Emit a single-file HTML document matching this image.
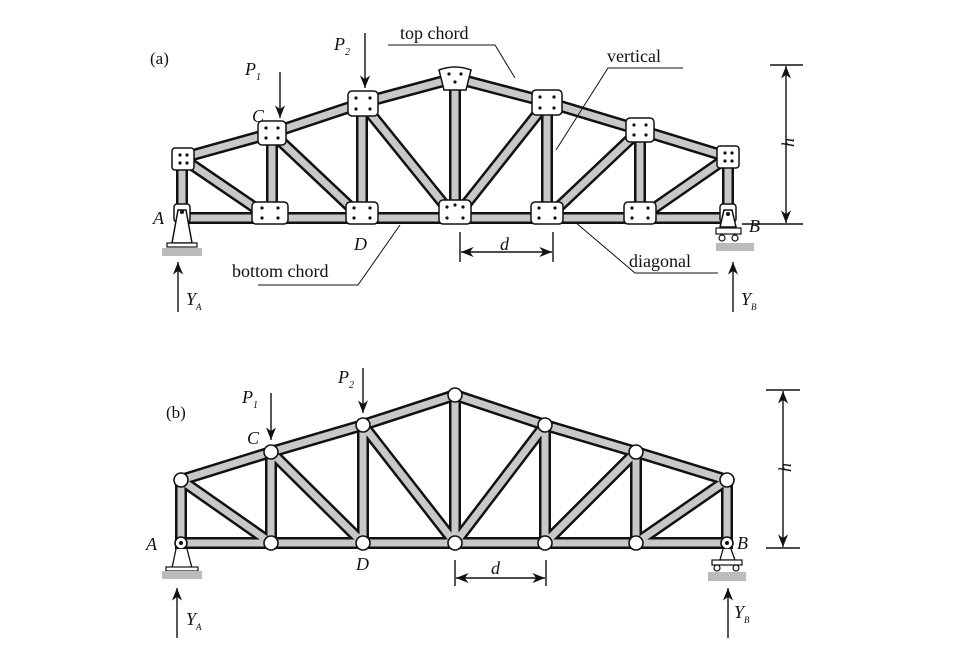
<!DOCTYPE html>
<html><head><meta charset="utf-8"><style>
html,body{margin:0;padding:0;background:#fff}
svg{display:block}
text{font-family:"Liberation Serif",serif;fill:#111}
.it{font-style:italic}
</style></head><body>
<svg width="960" height="660" viewBox="0 0 960 660" xmlns="http://www.w3.org/2000/svg">
<defs>
<marker id="ar" viewBox="0 0 10 10" refX="10" refY="5" markerWidth="9" markerHeight="9" orient="auto-start-reverse"><path d="M0,1 L10,5 L0,9 L3,5z" fill="#111"/></marker>
</defs>
<rect width="960" height="660" fill="#fff"/>

<!-- ============ (a) ============ -->
<g stroke-linecap="butt">
<g stroke="#111" stroke-width="12">
<line x1="176" y1="218" x2="734" y2="218"/>
<polyline fill="none" points="182,158 272,133 362,103 455,78 547,102 640,130 728,157"/>
<line x1="182" y1="158" x2="182" y2="218"/><line x1="272" y1="133" x2="272" y2="218"/><line x1="362" y1="103" x2="362" y2="218"/><line x1="455" y1="78" x2="455" y2="218"/><line x1="547" y1="102" x2="547" y2="218"/><line x1="640" y1="130" x2="640" y2="218"/><line x1="728" y1="157" x2="728" y2="218"/>
<line x1="182" y1="158" x2="270" y2="218"/><line x1="272" y1="133" x2="362" y2="218"/><line x1="362" y1="103" x2="455" y2="218"/><line x1="455" y1="218" x2="547" y2="102"/><line x1="547" y1="218" x2="640" y2="130"/><line x1="640" y1="218" x2="728" y2="157"/>
</g>
<g stroke="#c8c8c8" stroke-width="7">
<line x1="176" y1="218" x2="734" y2="218"/>
<polyline fill="none" points="182,158 272,133 362,103 455,78 547,102 640,130 728,157"/>
<line x1="182" y1="158" x2="182" y2="218"/><line x1="272" y1="133" x2="272" y2="218"/><line x1="362" y1="103" x2="362" y2="218"/><line x1="455" y1="78" x2="455" y2="218"/><line x1="547" y1="102" x2="547" y2="218"/><line x1="640" y1="130" x2="640" y2="218"/><line x1="728" y1="157" x2="728" y2="218"/>
<line x1="182" y1="158" x2="270" y2="218"/><line x1="272" y1="133" x2="362" y2="218"/><line x1="362" y1="103" x2="455" y2="218"/><line x1="455" y1="218" x2="547" y2="102"/><line x1="547" y1="218" x2="640" y2="130"/><line x1="640" y1="218" x2="728" y2="157"/>
</g>
</g>
<!-- gussets -->
<g fill="#fff" stroke="#111" stroke-width="1.5">
<rect x="172" y="148" width="22" height="22" rx="3"/>
<rect x="258" y="121" width="28" height="24" rx="4"/>
<rect x="348" y="91" width="30" height="25" rx="4"/>
<path d="M439,70 Q455,64 471,70 L466,90 L444,90Z"/>
<rect x="532" y="90" width="30" height="25" rx="4"/>
<rect x="626" y="118" width="28" height="24" rx="4"/>
<rect x="717" y="146" width="22" height="22" rx="3"/>
<rect x="252" y="202" width="36" height="22" rx="4"/>
<rect x="346" y="202" width="32" height="22" rx="4"/>
<rect x="439" y="200" width="32" height="24" rx="4"/>
<rect x="531" y="202" width="32" height="22" rx="4"/>
<rect x="624" y="202" width="32" height="22" rx="4"/>
<rect x="174" y="204" width="16" height="18" rx="3"/>
<rect x="720" y="204" width="16" height="18" rx="3"/>
</g>
<g fill="#111">
<circle cx="180" cy="155" r="1.6"/><circle cx="187" cy="155" r="1.6"/><circle cx="180" cy="163" r="1.6"/><circle cx="187" cy="163" r="1.6"/>
<circle cx="266" cy="128" r="1.6"/><circle cx="278" cy="128" r="1.6"/><circle cx="266" cy="138" r="1.6"/><circle cx="278" cy="138" r="1.6"/>
<circle cx="356" cy="98" r="1.6"/><circle cx="370" cy="98" r="1.6"/><circle cx="356" cy="109" r="1.6"/><circle cx="370" cy="109" r="1.6"/>
<circle cx="449" cy="74" r="1.6"/><circle cx="461" cy="74" r="1.6"/><circle cx="455" cy="82" r="1.6"/>
<circle cx="540" cy="97" r="1.6"/><circle cx="554" cy="97" r="1.6"/><circle cx="540" cy="108" r="1.6"/><circle cx="554" cy="108" r="1.6"/>
<circle cx="634" cy="125" r="1.6"/><circle cx="646" cy="125" r="1.6"/><circle cx="634" cy="135" r="1.6"/><circle cx="646" cy="135" r="1.6"/>
<circle cx="725" cy="153" r="1.6"/><circle cx="732" cy="153" r="1.6"/><circle cx="725" cy="161" r="1.6"/><circle cx="732" cy="161" r="1.6"/>
<circle cx="262" cy="208" r="1.6"/><circle cx="278" cy="208" r="1.6"/><circle cx="262" cy="218" r="1.6"/><circle cx="278" cy="218" r="1.6"/>
<circle cx="354" cy="208" r="1.6"/><circle cx="370" cy="208" r="1.6"/><circle cx="354" cy="218" r="1.6"/><circle cx="370" cy="218" r="1.6"/>
<circle cx="447" cy="207" r="1.6"/><circle cx="455" cy="205" r="1.6"/><circle cx="463" cy="207" r="1.6"/><circle cx="447" cy="218" r="1.6"/><circle cx="463" cy="218" r="1.6"/>
<circle cx="539" cy="208" r="1.6"/><circle cx="555" cy="208" r="1.6"/><circle cx="539" cy="218" r="1.6"/><circle cx="555" cy="218" r="1.6"/>
<circle cx="632" cy="208" r="1.6"/><circle cx="648" cy="208" r="1.6"/><circle cx="632" cy="218" r="1.6"/><circle cx="648" cy="218" r="1.6"/>
</g>
<!-- supports a -->
<path d="M178,210 L186,210 L192,243 L172,243Z" fill="#fff" stroke="#111" stroke-width="1.5"/>
<circle cx="182" cy="212" r="2" fill="#111"/>
<rect x="167" y="243" width="30" height="4" fill="#fff" stroke="#111" stroke-width="1.2"/>
<rect x="162" y="248" width="40" height="8" fill="#bbb"/>
<path d="M724,210 L732,210 L736,227 L720,227Z" fill="#fff" stroke="#111" stroke-width="1.5"/>
<circle cx="728" cy="214" r="2" fill="#111"/>
<rect x="716" y="228" width="25" height="6" fill="#fff" stroke="#111" stroke-width="1.2"/>
<circle cx="722" cy="238" r="3" fill="#fff" stroke="#111" stroke-width="1.2"/><circle cx="735" cy="238" r="3" fill="#fff" stroke="#111" stroke-width="1.2"/>
<rect x="716" y="243" width="38" height="8" fill="#bbb"/>

<g stroke="#111" stroke-width="1.4" fill="none">
<line x1="280" y1="72" x2="280" y2="118" marker-end="url(#ar)"/>
<line x1="365" y1="33" x2="365" y2="88" marker-end="url(#ar)"/>
<line x1="178" y1="312" x2="178" y2="262" marker-end="url(#ar)"/>
<line x1="733" y1="312" x2="733" y2="262" marker-end="url(#ar)"/>
<line x1="460" y1="232" x2="460" y2="262"/><line x1="553" y1="232" x2="553" y2="262"/>
<line x1="461" y1="252" x2="552" y2="252" marker-start="url(#ar)" marker-end="url(#ar)"/>
<line x1="770" y1="65" x2="803" y2="65"/><line x1="742" y1="224" x2="803" y2="224"/>
<line x1="786" y1="66" x2="786" y2="223" marker-start="url(#ar)" marker-end="url(#ar)"/>
<polyline stroke-width="1" points="388,45 495,45 515,78"/>
<polyline stroke-width="1" points="683,68 608,68 556,150"/>
<polyline stroke-width="1" points="575,222 635,273 718,273"/>
<polyline stroke-width="1" points="258,285 358,285 400,225"/>
</g>
<text x="150" y="64" font-size="17">(a)</text>
<text x="245" y="75" font-size="18" class="it">P<tspan font-size="10" dy="5">1</tspan></text>
<text x="334" y="50" font-size="18" class="it">P<tspan font-size="10" dy="5">2</tspan></text>
<text x="252" y="122" font-size="18" class="it">C</text>
<text x="153" y="224" font-size="18" class="it">A</text>
<text x="354" y="250" font-size="18" class="it">D</text>
<text x="749" y="232" font-size="18" class="it">B</text>
<text x="500" y="250" font-size="18" class="it">d</text>
<text x="186" y="305" font-size="18" class="it">Y<tspan font-size="9" dy="5">A</tspan></text>
<text x="741" y="305" font-size="18" class="it">Y<tspan font-size="9" dy="5">B</tspan></text>
<text x="780" y="140" font-size="18" class="it" transform="rotate(-90 780 140) translate(-7 14)">h</text>
<text x="400" y="39" font-size="18">top chord</text>
<text x="607" y="62" font-size="18">vertical</text>
<text x="629" y="267" font-size="18">diagonal</text>
<text x="232" y="277" font-size="18">bottom chord</text>

<!-- ============ (b) ============ -->
<g>
<g stroke="#111" stroke-width="12">
<line x1="175" y1="543" x2="733" y2="543"/>
<polyline fill="none" points="181,480 271,452 363,425 455,395 545,425 636,452 727,480"/>
<line x1="181" y1="480" x2="181" y2="543"/><line x1="271" y1="452" x2="271" y2="543"/><line x1="363" y1="425" x2="363" y2="543"/><line x1="455" y1="395" x2="455" y2="543"/><line x1="545" y1="425" x2="545" y2="543"/><line x1="636" y1="452" x2="636" y2="543"/><line x1="727" y1="480" x2="727" y2="543"/>
<line x1="181" y1="480" x2="271" y2="543"/><line x1="271" y1="452" x2="363" y2="543"/><line x1="363" y1="425" x2="455" y2="543"/><line x1="455" y1="543" x2="545" y2="425"/><line x1="545" y1="543" x2="636" y2="452"/><line x1="636" y1="543" x2="727" y2="480"/>
</g>
<g stroke="#c8c8c8" stroke-width="7">
<line x1="175" y1="543" x2="733" y2="543"/>
<polyline fill="none" points="181,480 271,452 363,425 455,395 545,425 636,452 727,480"/>
<line x1="181" y1="480" x2="181" y2="543"/><line x1="271" y1="452" x2="271" y2="543"/><line x1="363" y1="425" x2="363" y2="543"/><line x1="455" y1="395" x2="455" y2="543"/><line x1="545" y1="425" x2="545" y2="543"/><line x1="636" y1="452" x2="636" y2="543"/><line x1="727" y1="480" x2="727" y2="543"/>
<line x1="181" y1="480" x2="271" y2="543"/><line x1="271" y1="452" x2="363" y2="543"/><line x1="363" y1="425" x2="455" y2="543"/><line x1="455" y1="543" x2="545" y2="425"/><line x1="545" y1="543" x2="636" y2="452"/><line x1="636" y1="543" x2="727" y2="480"/>
</g>
</g>
<g fill="#fff" stroke="#111" stroke-width="1.6">
<circle cx="181" cy="480" r="7"/><circle cx="271" cy="452" r="7"/><circle cx="363" cy="425" r="7"/><circle cx="455" cy="395" r="7"/><circle cx="545" cy="425" r="7"/><circle cx="636" cy="452" r="7"/><circle cx="727" cy="480" r="7"/>
<circle cx="271" cy="543" r="7"/><circle cx="363" cy="543" r="7"/><circle cx="455" cy="543" r="7"/><circle cx="545" cy="543" r="7"/><circle cx="636" cy="543" r="7"/>
<circle cx="181" cy="543" r="6"/><circle cx="727" cy="543" r="6"/>
</g>
<circle cx="181" cy="543" r="2" fill="#111"/><circle cx="727" cy="543" r="2" fill="#111"/>
<path d="M176,549 L172,568 L192,568 L187,549" fill="#fff" stroke="#111" stroke-width="1.3"/>
<rect x="166" y="567" width="32" height="4" fill="#fff" stroke="#111" stroke-width="1.2"/>
<rect x="162" y="571" width="40" height="8" fill="#bbb"/>
<path d="M723,549 L720,560 L735,560 L731,549" fill="#fff" stroke="#111" stroke-width="1.3"/>
<rect x="712" y="560" width="30" height="5" fill="#fff" stroke="#111" stroke-width="1.2"/>
<circle cx="717" cy="568" r="3" fill="#fff" stroke="#111" stroke-width="1.2"/><circle cx="736" cy="568" r="3" fill="#fff" stroke="#111" stroke-width="1.2"/>
<rect x="708" y="572" width="38" height="9" fill="#bbb"/>

<g stroke="#111" stroke-width="1.4" fill="none">
<line x1="271" y1="393" x2="271" y2="440" marker-end="url(#ar)"/>
<line x1="363" y1="368" x2="363" y2="413" marker-end="url(#ar)"/>
<line x1="177" y1="638" x2="177" y2="588" marker-end="url(#ar)"/>
<line x1="728" y1="638" x2="728" y2="588" marker-end="url(#ar)"/>
<line x1="455" y1="560" x2="455" y2="586"/><line x1="546" y1="560" x2="546" y2="586"/>
<line x1="456" y1="578" x2="545" y2="578" marker-start="url(#ar)" marker-end="url(#ar)"/>
<line x1="766" y1="390" x2="800" y2="390"/><line x1="766" y1="548" x2="800" y2="548"/>
<line x1="783" y1="391" x2="783" y2="547" marker-start="url(#ar)" marker-end="url(#ar)"/>
</g>
<text x="166" y="418" font-size="17">(b)</text>
<text x="242" y="403" font-size="18" class="it">P<tspan font-size="10" dy="5">1</tspan></text>
<text x="338" y="383" font-size="18" class="it">P<tspan font-size="10" dy="5">2</tspan></text>
<text x="247" y="444" font-size="18" class="it">C</text>
<text x="146" y="550" font-size="18" class="it">A</text>
<text x="356" y="570" font-size="18" class="it">D</text>
<text x="737" y="549" font-size="18" class="it">B</text>
<text x="491" y="574" font-size="18" class="it">d</text>
<text x="186" y="625" font-size="18" class="it">Y<tspan font-size="9" dy="5">A</tspan></text>
<text x="734" y="618" font-size="18" class="it">Y<tspan font-size="9" dy="5">B</tspan></text>
<text x="777" y="465" font-size="18" class="it" transform="rotate(-90 777 465) translate(-7 14)">h</text>
</svg>
</body></html>
